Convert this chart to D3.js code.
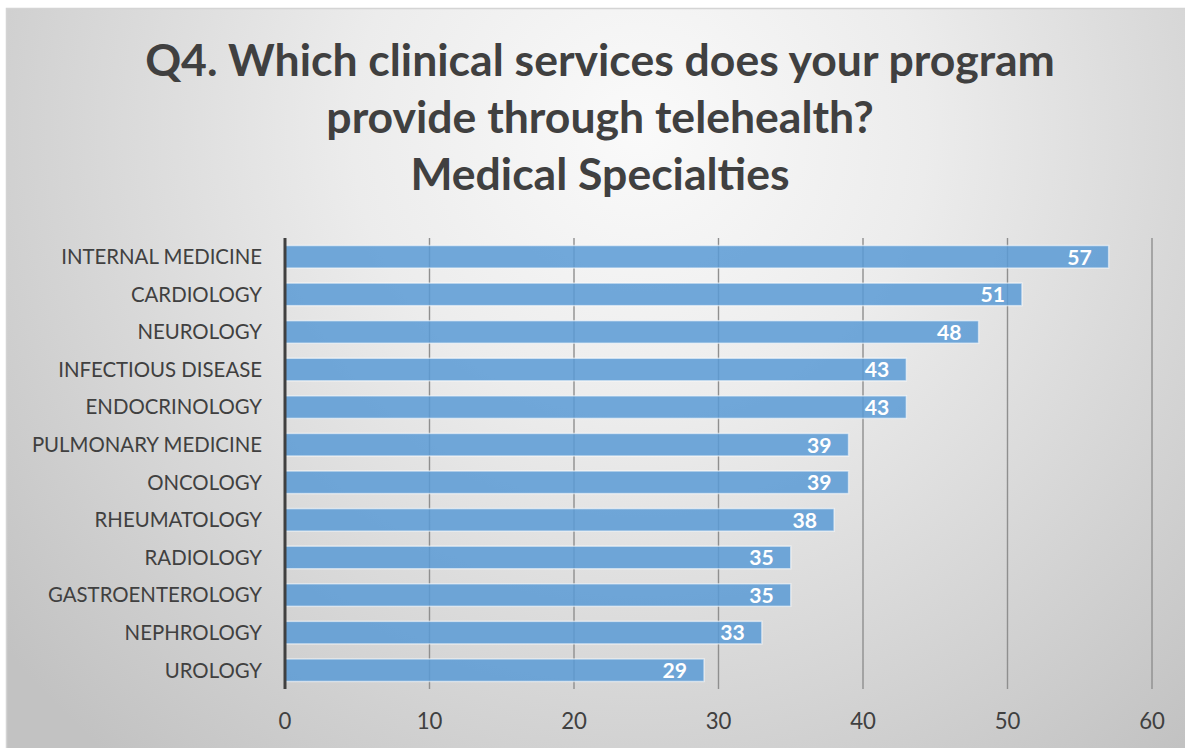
<!DOCTYPE html>
<html>
<head>
<meta charset="utf-8">
<script src="https://cdn.jsdelivr.net/npm/d3@7"></script>
<style>
  html, body { margin: 0; padding: 0; background: #ffffff; }
  svg { display: block; }
  text { font-family: Lato, "Open Sans", "DejaVu Sans", sans-serif; }
</style>
</head>
<body>
<svg id="chart" width="1185" height="748"></svg>
<script>
const titleLines = ["Q4. Which clinical services does your program", "provide through telehealth?", "Medical Specialties"];
const categories = ["INTERNAL MEDICINE", "CARDIOLOGY", "NEUROLOGY", "INFECTIOUS DISEASE", "ENDOCRINOLOGY",
  "PULMONARY MEDICINE", "ONCOLOGY", "RHEUMATOLOGY", "RADIOLOGY", "GASTROENTEROLOGY", "NEPHROLOGY", "UROLOGY"];
const values = [57, 51, 48, 43, 43, 39, 39, 38, 35, 35, 33, 29];
const xTicks = [0, 10, 20, 30, 40, 50, 60];

const svg = d3.select("#chart");
const W = 1185, H = 748;

// background gradient
const defs = svg.append("defs");
const grad = defs.append("radialGradient").attr("id", "bg")
  .attr("gradientUnits", "userSpaceOnUse")
  .attr("cx", 640).attr("cy", 130).attr("r", 820);
grad.append("stop").attr("offset", "0%").attr("stop-color", "#fafafa");
grad.append("stop").attr("offset", "35%").attr("stop-color", "#ececec");
grad.append("stop").attr("offset", "100%").attr("stop-color", "#c2c2c2");

svg.append("rect").attr("x", 6.5).attr("y", 8.5).attr("width", W).attr("height", H)
  .attr("fill", "url(#bg)").attr("stroke", "#d4d4d4").attr("stroke-width", 1.5);

function fit(sel, target) {
  const n = sel.node();
  const base = parseFloat(sel.attr("font-size"));
  const w = n.getComputedTextLength();
  return base * target / w;
}

// Title
const t0 = svg.append("text").attr("font-size", 40).attr("font-weight", 700).text(titleLines[0]);
const titleSize = fit(t0, 910);
t0.remove();
const titleY = [76, 133, 190];
svg.append("g").selectAll("text").data(titleLines).join("text")
  .attr("x", 600).attr("y", (d, i) => titleY[i])
  .attr("text-anchor", "middle").attr("font-size", titleSize).attr("font-weight", 700)
  .attr("fill", "#404040").text(d => d);

// Scales
const x = d3.scaleLinear().domain([0, 60]).range([285, 1152]);
const y = d3.scaleBand().domain(categories).range([238, 689]).paddingInner(0.4).paddingOuter(0.2);

// Gridlines
svg.append("g").selectAll("line").data(xTicks.slice(1)).join("line")
  .attr("x1", d => x(d)).attr("x2", d => x(d)).attr("y1", 238).attr("y2", 689)
  .attr("stroke", "#8f8f8f").attr("stroke-width", 1.4);

// Bars
const data = categories.map((c, i) => ({ c, v: values[i] }));
svg.append("g").selectAll("rect").data(data).join("rect")
  .attr("x", x(0)).attr("y", d => y(d.c))
  .attr("width", d => x(d.v) - x(0)).attr("height", y.bandwidth())
  .attr("fill", "#5b9bd5").attr("fill-opacity", 0.86)
  .attr("stroke", "#ffffff").attr("stroke-opacity", 0.55).attr("stroke-width", 1.5);

// Value labels
const v0 = svg.append("text").attr("font-size", 20).attr("font-weight", 700).text("57");
const valSize = fit(v0, 22.3) * 1.1;
v0.remove();
svg.append("g").selectAll("text").data(data).join("text")
  .attr("x", d => x(d.v) - 17).attr("y", d => y(d.c) + y.bandwidth() / 2)
  .attr("dy", "0.37em").attr("text-anchor", "end")
  .attr("font-size", valSize).attr("font-weight", 700).attr("fill", "#ffffff")
  .text(d => d.v);

// Category labels
const c0 = svg.append("text").attr("font-size", 20).text(categories[0]);
const catSize = fit(c0, 201);
c0.remove();
svg.append("g").selectAll("text").data(categories).join("text")
  .attr("x", 262).attr("y", d => y(d) + y.bandwidth() / 2)
  .attr("dy", "0.36em").attr("text-anchor", "end")
  .attr("font-size", catSize).attr("fill", "#404040").text(d => d);

// Axis line (category axis)
svg.append("line").attr("x1", x(0)).attr("x2", x(0)).attr("y1", 238).attr("y2", 689)
  .attr("stroke", "#404040").attr("stroke-width", 3);

// X tick labels
const k0 = svg.append("text").attr("font-size", 20).text("60");
const tickSize = fit(k0, 23) * 1.12;
k0.remove();
svg.append("g").selectAll("text").data(xTicks).join("text")
  .attr("x", d => x(d)).attr("y", 729)
  .attr("text-anchor", "middle").attr("font-size", tickSize).attr("fill", "#404040")
  .text(d => d);
</script>
</body>
</html>
